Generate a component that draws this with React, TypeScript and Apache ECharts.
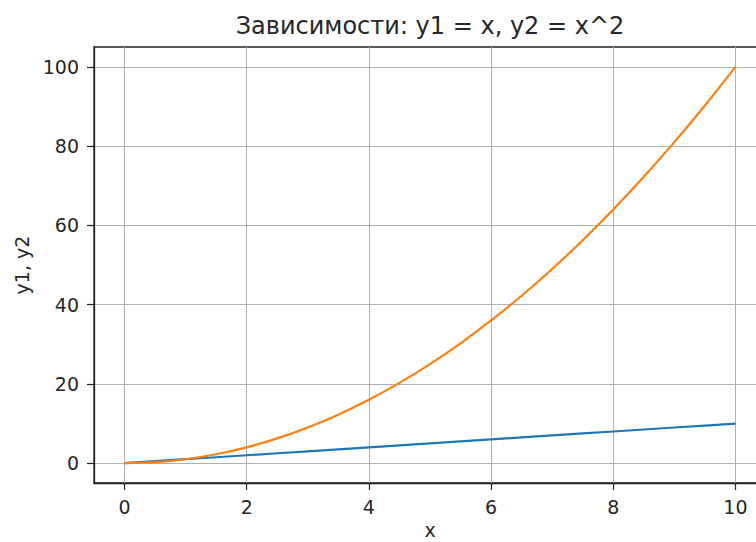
import React, { useEffect, useRef } from "react";
import * as echarts from "echarts";

const titleText = "Зависимости: y1 = x, y2 = x^2";
const xName = "x";
const yName = "y1, y2";

const xValues = [0, 0.5, 1, 1.5, 2, 2.5, 3, 3.5, 4, 4.5, 5, 5.5, 6, 6.5, 7, 7.5, 8, 8.5, 9, 9.5, 10];
const y1Values = [0, 0.5, 1, 1.5, 2, 2.5, 3, 3.5, 4, 4.5, 5, 5.5, 6, 6.5, 7, 7.5, 8, 8.5, 9, 9.5, 10];
const y2Values = [0, 0.25, 1, 2.25, 4, 6.25, 9, 12.25, 16, 20.25, 25, 30.25, 36, 42.25, 49, 56.25, 64, 72.25, 81, 90.25, 100];

const xTicks = [0, 2, 4, 6, 8, 10];
const yTicks = [0, 20, 40, 60, 80, 100];

const FONT = "DejaVu Sans";
const TEXT = "#262626";

export default function App() {
  const ref = useRef<HTMLDivElement>(null);
  useEffect(() => {
    if (!ref.current) return;
    const chart = echarts.init(ref.current, null, { renderer: "svg" });
    chart.setOption({
      animation: false,
      backgroundColor: "#ffffff",
      title: {
        text: titleText,
        left: "center",
        top: 9,
        textStyle: { fontFamily: FONT, fontSize: 24, fontWeight: "normal", color: TEXT },
      },
      grid: {
        left: 94,
        right: 94,
        top: 47,
        bottom: 59,
        show: true,
        borderColor: "#222",
        borderWidth: 1.3,
        containLabel: false,
        outerBoundsMode: "none",
      },
      xAxis: {
        type: "value",
        min: -0.5,
        max: 10.5,
        name: xName,
        nameLocation: "middle",
        nameGap: 39,
        nameTextStyle: { fontFamily: FONT, fontSize: 19, lineHeight: 13, color: TEXT },
        axisLine: { show: true, onZero: false, lineStyle: { color: "#222", width: 1.3 } },
        axisTick: { show: true, length: 7, customValues: xTicks, lineStyle: { color: "#222", width: 1.2 } },
        axisLabel: { customValues: xTicks, margin: 14, fontFamily: FONT, fontSize: 19, color: TEXT },
        splitLine: { show: true, lineStyle: { color: "#b0b0b0", width: 1 } },
      },
      yAxis: {
        type: "value",
        min: -5,
        max: 105,
        name: yName,
        nameLocation: "middle",
        nameGap: 60,
        nameRotate: 90,
        nameTextStyle: { fontFamily: FONT, fontSize: 19, color: TEXT },
        axisLine: { show: true, onZero: false, lineStyle: { color: "#222", width: 1.3 } },
        axisTick: { show: true, length: 7, customValues: yTicks, lineStyle: { color: "#222", width: 1.2 } },
        axisLabel: { customValues: yTicks, margin: 15, fontFamily: FONT, fontSize: 19, color: TEXT },
        splitLine: { show: true, lineStyle: { color: "#b0b0b0", width: 1 } },
      },
      series: [
        {
          type: "line",
          data: xValues.map((x, i) => [x, y1Values[i]]),
          showSymbol: false,
          lineStyle: { color: "#1f77b4", width: 2.2 },
          itemStyle: { color: "#1f77b4" },
        },
        {
          type: "line",
          data: xValues.map((x, i) => [x, y2Values[i]]),
          showSymbol: false,
          smooth: 0.3,
          lineStyle: { color: "#ff7f0e", width: 2.2 },
          itemStyle: { color: "#ff7f0e" },
        },
      ],
    });
    return () => chart.dispose();
  }, []);
  return (
    <div style={{ position: "fixed", left: 0, top: 0, width: 756, height: 542, overflow: "hidden", background: "#fff" }}>
      <div ref={ref} style={{ width: 860, height: 542 }} />
    </div>
  );
}
